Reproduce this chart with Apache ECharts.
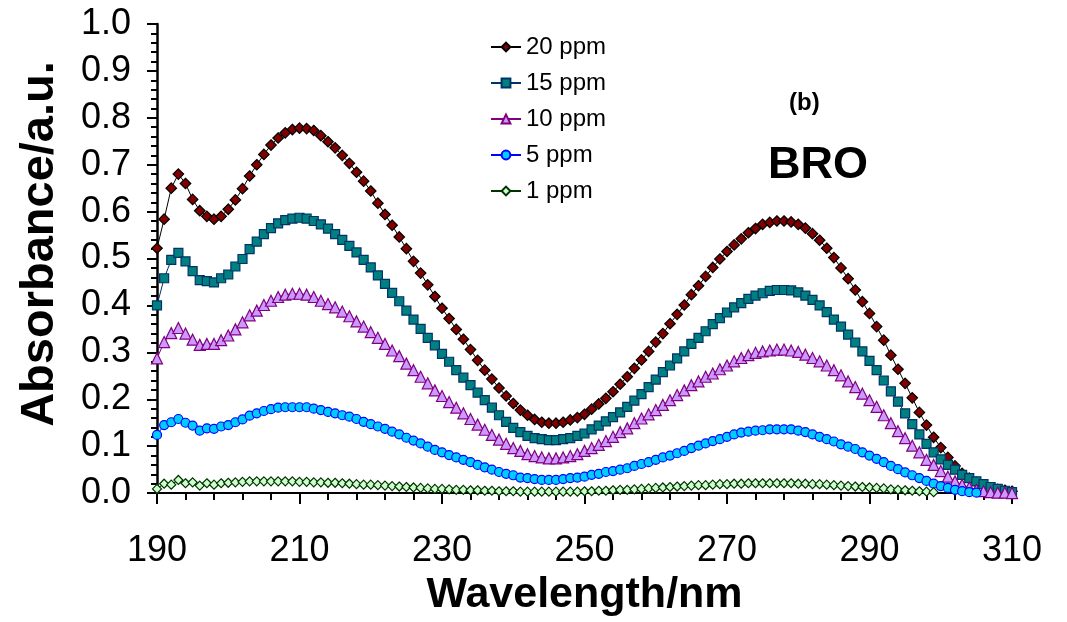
<!DOCTYPE html>
<html>
<head>
<meta charset="utf-8">
<script src="https://cdn.jsdelivr.net/npm/echarts@6/dist/echarts.min.js"></script>
<style>
html,body{margin:0;padding:0;background:#fff;}
#chart{width:1067px;height:622px;}
</style>
</head>
<body>
<div id="chart"></div>
<script>
// Wavelength axis (nm), one reading per nm
const wlStart = 190, wlEnd = 310;
const wavelengths = [];
for (let w = wlStart; w <= wlEnd; w++) wavelengths.push(w);

const seriesNames = ['20 ppm', '15 ppm', '10 ppm', '5 ppm', '1 ppm'];

const ppm20 = [
 0.522,0.584,0.650,0.680,0.660,0.626,0.602,0.590,0.584,0.590,
 0.605,0.625,0.649,0.676,0.700,0.722,0.742,0.757,0.768,0.775,
 0.778,0.777,0.773,0.762,0.749,0.736,0.720,0.703,0.684,0.665,
 0.644,0.618,0.594,0.571,0.546,0.521,0.494,0.469,0.444,0.419,
 0.394,0.372,0.349,0.328,0.306,0.283,0.262,0.243,0.224,0.207,
 0.191,0.177,0.166,0.157,0.151,0.149,0.149,0.151,0.156,0.161,
 0.168,0.179,0.190,0.202,0.216,0.232,0.248,0.266,0.284,0.302,
 0.322,0.340,0.361,0.381,0.401,0.423,0.442,0.462,0.481,0.499,
 0.515,0.529,0.542,0.555,0.564,0.573,0.577,0.580,0.580,0.578,
 0.573,0.565,0.553,0.539,0.522,0.502,0.480,0.457,0.433,0.408,
 0.383,0.355,0.326,0.294,0.264,0.234,0.203,0.172,0.145,0.119,
 0.097,0.076,0.058,0.042,0.032,0.023,0.016,0.011,0.008,0.006,
 0.004];

const ppm15 = [
 0.400,0.458,0.497,0.512,0.494,0.473,0.454,0.452,0.449,0.458,
 0.466,0.483,0.499,0.520,0.536,0.552,0.565,0.575,0.582,0.585,
 0.587,0.585,0.580,0.573,0.564,0.552,0.540,0.527,0.513,0.497,
 0.481,0.464,0.446,0.427,0.409,0.389,0.370,0.350,0.331,0.315,
 0.297,0.280,0.262,0.246,0.230,0.214,0.198,0.182,0.166,0.152,
 0.139,0.130,0.122,0.117,0.115,0.113,0.113,0.115,0.117,0.122,
 0.127,0.136,0.144,0.153,0.162,0.172,0.184,0.197,0.211,0.226,
 0.242,0.258,0.272,0.287,0.302,0.318,0.331,0.345,0.360,0.373,
 0.385,0.396,0.405,0.414,0.421,0.426,0.431,0.433,0.433,0.432,
 0.428,0.421,0.412,0.400,0.386,0.370,0.355,0.338,0.321,0.302,
 0.282,0.262,0.240,0.217,0.195,0.170,0.147,0.125,0.105,0.087,
 0.072,0.060,0.050,0.039,0.032,0.025,0.019,0.013,0.009,0.005,
 0.002];

const ppm10 = [
 0.287,0.322,0.341,0.352,0.340,0.327,0.316,0.318,0.318,0.326,
 0.336,0.349,0.364,0.379,0.389,0.401,0.410,0.418,0.423,0.425,
 0.425,0.423,0.418,0.410,0.403,0.396,0.387,0.377,0.366,0.355,
 0.343,0.331,0.318,0.304,0.292,0.276,0.262,0.248,0.234,0.219,
 0.207,0.194,0.182,0.170,0.158,0.146,0.135,0.124,0.114,0.105,
 0.096,0.090,0.083,0.079,0.076,0.074,0.074,0.076,0.079,0.083,
 0.090,0.096,0.103,0.111,0.120,0.130,0.138,0.149,0.159,0.168,
 0.177,0.188,0.198,0.209,0.219,0.230,0.238,0.248,0.255,0.264,
 0.272,0.281,0.288,0.294,0.299,0.302,0.304,0.306,0.306,0.304,
 0.301,0.295,0.288,0.281,0.272,0.262,0.251,0.238,0.226,0.212,
 0.198,0.184,0.166,0.149,0.132,0.117,0.101,0.087,0.071,0.060,
 0.047,0.035,0.025,0.018,0.012,0.007,0.004,0.002,0.001,0.001,
 0.000];

const ppm5 = [
 0.124,0.145,0.151,0.158,0.150,0.144,0.133,0.138,0.137,0.142,
 0.145,0.151,0.157,0.165,0.170,0.175,0.179,0.182,0.183,0.183,
 0.183,0.183,0.180,0.177,0.173,0.170,0.166,0.163,0.158,0.152,
 0.147,0.142,0.137,0.131,0.125,0.118,0.112,0.106,0.099,0.092,
 0.087,0.081,0.076,0.071,0.066,0.060,0.055,0.050,0.045,0.041,
 0.038,0.033,0.032,0.030,0.028,0.028,0.028,0.030,0.032,0.033,
 0.035,0.039,0.041,0.045,0.047,0.050,0.053,0.058,0.062,0.066,
 0.071,0.076,0.080,0.085,0.090,0.096,0.101,0.106,0.111,0.115,
 0.120,0.125,0.129,0.131,0.133,0.134,0.136,0.136,0.136,0.136,
 0.133,0.130,0.125,0.120,0.115,0.110,0.104,0.099,0.094,0.087,
 0.080,0.073,0.066,0.058,0.051,0.044,0.038,0.032,0.026,0.020,
 0.015,0.011,0.007,0.004,0.002,0.001,null,null,null,null,
 null];

const ppm1 = [
 0.009,0.020,0.018,0.028,0.021,0.023,0.016,0.021,0.018,0.021,
 0.022,0.023,0.024,0.025,0.025,0.025,0.025,0.025,0.025,0.025,
 0.024,0.024,0.023,0.023,0.022,0.022,0.021,0.020,0.019,0.018,
 0.018,0.017,0.016,0.015,0.014,0.013,0.012,0.011,0.010,0.009,
 0.009,0.008,0.007,0.007,0.006,0.006,0.005,0.005,0.004,0.004,
 0.004,0.003,0.003,0.003,0.003,0.003,0.003,0.003,0.003,0.003,
 0.004,0.004,0.005,0.005,0.006,0.007,0.007,0.008,0.009,0.010,
 0.011,0.012,0.013,0.014,0.015,0.016,0.017,0.017,0.018,0.019,
 0.019,0.020,0.020,0.021,0.021,0.021,0.021,0.021,0.021,0.021,
 0.020,0.020,0.019,0.019,0.018,0.017,0.016,0.015,0.014,0.013,
 0.012,0.011,0.010,0.008,0.007,0.006,0.005,0.004,0.003,0.002,
 -0.004,-0.004,-0.004,-0.004,-0.004,-0.004,-0.004,-0.004,-0.004,-0.004,
 -0.004];

const xTicks = { min: 190, max: 310, interval: 20 };
const yTicks = { min: 0, max: 1, interval: 0.1 };

const FONT = '"Liberation Sans", Arial, sans-serif';

function pairs(vals) {
  return wavelengths.map((w, i) => [w, vals[i]]);
}

const styles = [
  { symbol: 'diamond',  size: 10.5, fill: '#800000', border: '#000000', line: '#000000' },
  { symbol: 'rect',     size: 9,    fill: '#008080', border: '#003366', line: '#003366' },
  { symbol: 'triangle', size: 11,   fill: '#CC99FF', border: '#800080', line: '#800080' },
  { symbol: 'circle',   size: 9,    fill: '#00CCFF', border: '#0000FF', line: '#0000FF' },
  { symbol: 'diamond',  size: 9,    fill: '#CCFFCC', border: '#003300', line: '#003300' }
];
const allData = [ppm20, ppm15, ppm10, ppm5, ppm1];

const series = allData.map((vals, i) => ({
  name: seriesNames[i],
  type: 'line',
  data: pairs(vals),
  symbol: styles[i].symbol,
  symbolSize: styles[i].size,
  showAllSymbol: true,
  clip: true,
  animation: false,
  connectNulls: false,
  lineStyle: { color: styles[i].line, width: 1 },
  itemStyle: { color: styles[i].fill, borderColor: styles[i].border, borderWidth: 1.2 },
  emphasis: { disabled: true },
  z: 2 + i
}));

const chart = echarts.init(document.getElementById('chart'), null, { renderer: 'canvas' });
chart.setOption({
  backgroundColor: '#ffffff',
  animation: false,
  grid: { left: 157, top: 24, right: 55, bottom: 127, containLabel: false },
  legend: {
    orient: 'vertical',
    left: 490,
    top: 35,
    padding: 0,
    itemWidth: 30,
    itemHeight: 11,
    itemGap: 12,
    textStyle: { fontSize: 24, fontFamily: FONT, color: '#000' },
    data: seriesNames
  },
  xAxis: {
    type: 'value',
    min: xTicks.min, max: xTicks.max, interval: xTicks.interval,
    name: 'Wavelength/nm',
    nameLocation: 'middle',
    nameGap: 78,
    nameTextStyle: { fontSize: 43, fontWeight: 'bold', fontFamily: FONT, color: '#000' },
    axisLine: { show: true, onZero: false, lineStyle: { color: '#000', width: 2 } },
    axisTick: { show: true, inside: false, length: 11, lineStyle: { color: '#000', width: 2 } },
    minorTick: { show: true, splitNumber: 5, length: 7, lineStyle: { color: '#000', width: 2 } },
    axisLabel: { fontSize: 36, fontFamily: FONT, color: '#000', margin: 40 },
    splitLine: { show: false },
    minorSplitLine: { show: false }
  },
  yAxis: {
    type: 'value',
    min: yTicks.min, max: yTicks.max, interval: yTicks.interval,
    axisLine: { show: true, onZero: false, lineStyle: { color: '#000', width: 2.5 } },
    axisTick: { show: true, inside: false, length: 10, lineStyle: { color: '#000', width: 2 } },
    minorTick: { show: true, splitNumber: 5, length: 6, lineStyle: { color: '#000', width: 2 } },
    axisLabel: { fontSize: 36, fontFamily: FONT, color: '#000', margin: 26,
      formatter: v => v.toFixed(1) },
    splitLine: { show: false },
    minorSplitLine: { show: false }
  },
  graphic: [
    { type: 'text', x: 40, y: 244, rotation: Math.PI / 2,
      style: { text: 'Absorbance/a.u.', font: 'bold 47px "Liberation Sans", Arial, sans-serif',
               fill: '#000', align: 'center', verticalAlign: 'middle' } },
    { type: 'text', left: 789, top: 91,
      style: { text: '(b)', font: 'bold 24px "Liberation Sans", Arial, sans-serif', fill: '#000' } },
    { type: 'text', left: 768, top: 143,
      style: { text: 'BRO', font: 'bold 45px "Liberation Sans", Arial, sans-serif', fill: '#000' } }
  ],
  series: series
});
</script>
</body>
</html>
